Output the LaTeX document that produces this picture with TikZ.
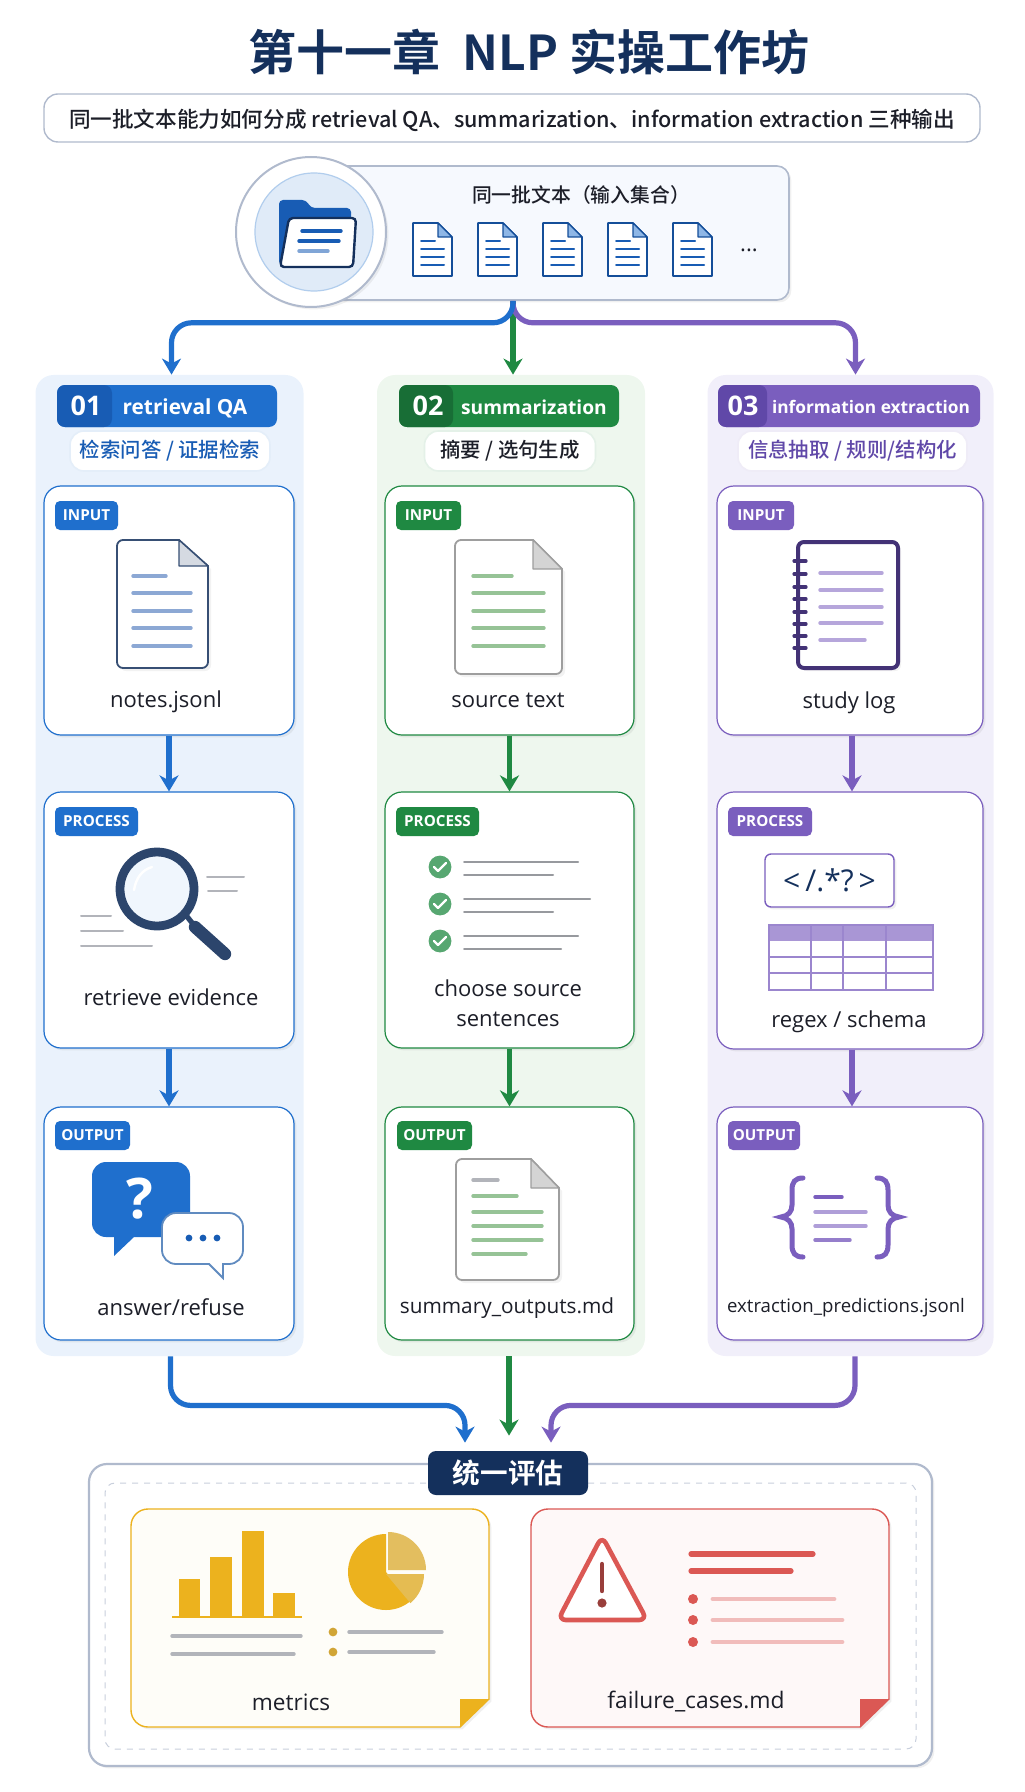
\documentclass[tikz,border=0pt]{standalone}
\usepackage{fontspec}
\setmainfont{Open Sans}
\newfontfamily\cjk[UprightFont=* Medium,BoldFont=* Bold]{Noto Sans CJK SC}
\usepackage{xcolor}
\usepackage{tikz}
\usetikzlibrary{arrows.meta,shadows}
\definecolor{navy}{RGB}{20,48,92}
\definecolor{inkblack}{RGB}{28,30,40}
\definecolor{qablue}{RGB}{31,111,205}
\definecolor{qadark}{RGB}{24,92,180}
\definecolor{qapale}{RGB}{234,242,252}
\definecolor{qaline}{RGB}{140,168,212}
\definecolor{sumgreen}{RGB}{31,137,66}
\definecolor{sumdark}{RGB}{24,110,54}
\definecolor{sumpale}{RGB}{238,247,238}
\definecolor{sumline}{RGB}{150,195,150}
\definecolor{iepurple}{RGB}{122,94,190}
\definecolor{iedark}{RGB}{96,72,168}
\definecolor{iepale}{RGB}{241,239,250}
\definecolor{edgegray}{RGB}{176,186,205}
\definecolor{linegray}{RGB}{178,180,186}
\definecolor{gold}{RGB}{236,178,30}
\definecolor{goldsoft}{RGB}{227,190,95}
\definecolor{failred}{RGB}{219,88,84}
\newcommand{\fsize}[1]{\fontsize{#1}{15}\selectfont}
\newcommand{\sheeticon}[8]{%
  \draw[#8,line width=0.9pt,fill=white,rounded corners=3pt,drop shadow={shadow xshift=1.5pt,shadow yshift=-1.5pt,opacity=0.1}]
    (#1,#2) [sharp corners] -- (#5,#2) -- (#3,#6) [rounded corners=3pt] -- (#3,#4) -- (#1,#4) -- cycle;
  \draw[#8,line width=0.7pt,fill=#7,line join=round] (#5,#2) -- (#5,#6) -- (#3,#6) -- cycle;}
\begin{document}
\begin{tikzpicture}[x=0.5pt,y=-0.5pt,>={Stealth[length=8pt,width=9.5pt,inset=2.5pt]},
  softshadow/.style={drop shadow={shadow xshift=1.2pt,shadow yshift=-1.2pt,opacity=0.12}},
  column/.style={fill=#1,rounded corners=9pt,inner sep=0pt,minimum width=134pt,minimum height=490.5pt},
  card/.style={draw=#1,fill=white,rounded corners=8.5pt,line width=0.6pt,inner sep=0pt,softshadow},
  headpill/.style={fill=#1,rounded corners=4pt,inner sep=0pt,minimum height=21pt},
  subpill/.style={draw=#1!12,fill=white,rounded corners=7pt,line width=0.8pt,inner sep=0pt,minimum height=20pt,font=\cjk\fsize{10.2}},
  badge/.style={fill=#1,rounded corners=2.5pt,inner sep=0pt,minimum height=14.5pt,text=white,font=\bfseries\fsize{7.6}},
  headnum/.style={text=white,font=\bfseries\fsize{13.5}},
  headtxt/.style={text=white,font=\bfseries\fsize{10}},
  lbl/.style={text=inkblack,align=center,font=\fsize{11}},
  flow/.style={->,draw=#1,line width=2.6pt},
  bend/.style={->,draw=#1,line width=2.6pt,rounded corners=10pt},
  txtline/.style={draw=#1,line width=1.7pt,line cap=round},
  thinline/.style={draw=#1,line width=1pt,line cap=round},
  brace/.style={iepurple,line width=2.5pt,line cap=round}]
\useasboundingbox (0,0) rectangle (1024,1792);
\node[text=navy,font=\cjk\bfseries\fsize{24}] (title) at (529,52) {第十一章\ \ NLP 实操工作坊};
\node[draw=edgegray,fill=white,rounded corners=7pt,line width=0.7pt,minimum width=468pt,minimum height=24pt,inner sep=0pt] (intro) at (512,118) {};
\node[text=inkblack,font=\cjk\fsize{10.8}] (introtxt) at (512,120) {同一批文本能力如何分成 retrieval QA、summarization、information extraction 三种输出};

\node[draw=edgegray,fill=qapale!45,rounded corners=6pt,line width=0.8pt,minimum width=229pt,minimum height=67pt,inner sep=0pt,softshadow] (src) at (560,233) {};
\node[text=inkblack,font=\cjk\fsize{9.9}] (srctxt) at (581,195) {同一批文本（输入集合）};
\node[draw=edgegray,fill=white,circle,line width=1pt,minimum size=75pt,inner sep=0pt,softshadow] (ring) at (311,232) {};
\node[draw=qablue!35,fill=qablue!14,circle,line width=0.6pt,minimum size=59pt,inner sep=0pt] (disc) at (314,232) {};
\fill[qadark,rounded corners=2pt] (279,265) -- (279,200) -- (306,200) -- (311,208) -- (351,208) -- (351,265) -- cycle;
\draw[navy,line width=1.2pt,fill=white,rounded corners=2pt] (289,218) -- (356,218) -- (353,267) -- (280,267) -- cycle;
\draw[txtline=qadark] (302,231) -- (341,231);
\draw[txtline=qadark] (299,241) -- (339,241);
\draw[txtline=qadark!55] (299,251) -- (328,251);
\foreach \x in {413,478,543,608,673}{
  \draw[qadark!85!black,line width=0.8pt,fill=white,line join=round] (\x,223) -- ++(25,0) -- ++(14,14) -- ++(0,39) -- ++(-39,0) -- cycle;
  \draw[qadark!85!black,line width=0.6pt,fill=qablue!50,line join=round] (\x+25,223) -- ++(0,14) -- ++(14,0) -- cycle;
  \draw[thinline=qadark] (\x+8,241) -- ++(14,0);
  \foreach \y in {249,257,265} \draw[thinline=qadark] (\x+8,\y) -- ++(23,0);
}
\node[text=inkblack,font=\fsize{11}] (more) at (749,250) {...};

\node[column=qapale] (col1) at (169.5,865.5) {};
\node[column=sumpale] (col2) at (511,865.5) {};
\node[column=iepale,minimum width=143pt] (col3) at (850.5,865.5) {};

\draw[flow=sumgreen] ([xshift=-23.5pt]src.south) -- ([xshift=1pt]col2.north);
\draw[bend=iepurple] ([xshift=-23.5pt]src.south) -- ++(0,22) -| ([xshift=2.5pt]col3.north);
\draw[bend=qablue] ([xshift=-23.5pt]src.south) -- ++(0,22) -| ([xshift=1pt]col1.north);

\node[headpill=qablue,minimum width=110pt] (head1) at (167,406) {};
\fill[qadark,rounded corners=4pt] (57,385) rectangle (112,427);
\node[headnum] (num1) at (86,406) {01};
\node[headtxt,font=\bfseries\fsize{10.4}] (name1) at (185,408) {retrieval QA};
\node[subpill=qablue,minimum width=100pt,text=qadark] (sub1) at (170,451) {检索问答 / 证据检索};

\node[headpill=sumgreen,minimum width=110pt] (head2) at (509,406) {};
\fill[sumdark,rounded corners=4pt] (399,385) rectangle (453,427);
\node[headnum] (num2) at (428,406) {02};
\node[headtxt,font=\bfseries\fsize{9.6}] (name2) at (534,407) {summarization};
\node[subpill=sumgreen,minimum width=85.5pt,text=inkblack] (sub2) at (510,451) {摘要 / 选句生成};

\node[headpill=iepurple,minimum width=131pt] (head3) at (849,406) {};
\fill[iedark,rounded corners=4pt] (718,385) rectangle (767,427);
\node[headnum] (num3) at (743,406) {03};
\node[headtxt,font=\bfseries\fsize{8.65}] (name3) at (871,407) {information extraction};
\node[subpill=iepurple,minimum width=114.5pt,text=iedark] (sub3) at (852.5,451) {信息抽取 / 规则/结构化};

\node[card=qablue,minimum width=125pt,minimum height=124.5pt] (in1) at (169,610.5) {};
\node[card=qablue,minimum width=125pt,minimum height=128pt] (pr1) at (169,920) {};
\node[card=qablue,minimum width=125pt,minimum height=116.5pt] (ou1) at (169,1223.5) {};
\node[card=sumgreen,minimum width=124.5pt,minimum height=124.5pt] (in2) at (509.5,610.5) {};
\node[card=sumgreen,minimum width=124.5pt,minimum height=128pt] (pr2) at (509.5,920) {};
\node[card=sumgreen,minimum width=124.5pt,minimum height=116.5pt] (ou2) at (509.5,1223.5) {};
\node[card=iepurple,minimum width=133pt,minimum height=124.5pt] (in3) at (850,610.5) {};
\node[card=iepurple,minimum width=133pt,minimum height=128.5pt] (pr3) at (850,920.5) {};
\node[card=iepurple,minimum width=133pt,minimum height=116.5pt] (ou3) at (850,1223.5) {};

\draw[flow=qablue] (in1) -- (pr1);
\draw[flow=qablue] (pr1) -- (ou1);
\draw[flow=sumgreen] (in2) -- (pr2);
\draw[flow=sumgreen] (pr2) -- (ou2);
\draw[flow=iepurple] ([xshift=1pt]in3.south) -- ([xshift=1pt]pr3.north);
\draw[flow=iepurple] ([xshift=1pt]pr3.south) -- ([xshift=1pt]ou3.north);

\node[badge=qablue,minimum width=31.5pt] (tag1a) at (86.5,515.5) {INPUT};
\node[badge=qablue,minimum width=41.5pt] (tag1b) at (96.5,821.5) {PROCESS};
\node[badge=qablue,minimum width=37.5pt] (tag1c) at (92.5,1135.5) {OUTPUT};
\node[badge=sumgreen,minimum width=32.5pt] (tag2a) at (428.5,515.5) {INPUT};
\node[badge=sumgreen,minimum width=41.5pt] (tag2b) at (437.5,821.5) {PROCESS};
\node[badge=sumgreen,minimum width=37.5pt] (tag2c) at (434.5,1135.5) {OUTPUT};
\node[badge=iepurple,minimum width=33pt] (tag3a) at (761,515.5) {INPUT};
\node[badge=iepurple,minimum width=42pt] (tag3b) at (770,821.5) {PROCESS};
\node[badge=iepurple,minimum width=36pt] (tag3c) at (764,1135.5) {OUTPUT};

\sheeticon{117}{540}{208}{668}{179}{566}{navy!18}{draw=navy!85}
\draw[txtline=qaline] (133,576) -- (166,576);
\foreach \y in {593,611,628,646} \draw[txtline=qaline] (133,\y) -- (191,\y);
\node[lbl] (t1a) at (166,702) {notes.jsonl};

\draw[navy!90,line width=6.2pt,line cap=round] (195,927) -- (225,954);
\draw[navy!90,line width=2.6pt] (185,914) -- (197,929);
\draw[navy!90,line width=4.4pt,fill=qapale!70] (157,889) circle[radius=18.5pt];
\draw[white,line width=1.2pt,line cap=round] (134,890) .. controls (136,878) and (142,870) .. (152,867);
\draw[thinline=linegray] (207,877) -- (244,877);
\draw[thinline=linegray] (208,891) -- (237,891);
\draw[thinline=linegray] (81,916) -- (111,916);
\draw[thinline=linegray] (81,931) -- (123,931);
\draw[thinline=linegray] (81,946) -- (152,946);
\node[lbl] (t1b) at (171,997) {retrieve evidence};

\fill[qablue,rounded corners=7pt] (92,1162) -- (190,1162) -- (190,1237) [sharp corners] -- (134,1237) -- (114,1256) -- (114,1237) [rounded corners=7pt] -- (92,1237) -- cycle;
\node[text=white,font=\bfseries\fsize{28}] (qmark) at (140,1199) {?};
\draw[draw=navy!35!qablue!70,line width=0.9pt,fill=white,rounded corners=7pt] (162,1213) -- (243,1213) -- (243,1264) [sharp corners] -- (223,1264) -- (223,1278) -- (209,1264) [rounded corners=7pt] -- (162,1264) -- cycle;
\foreach \x in {189,203,217} \fill[qadark] (\x,1238) circle[radius=1.7pt];
\node[lbl] (t1c) at (171,1307) {answer/refuse};

\sheeticon{455}{540}{562}{674}{533}{569}{black!17}{draw=black!38}
\draw[txtline=sumline] (473,576) -- (512,576);
\foreach \y in {593,611,628,646} \draw[txtline=sumline] (473,\y) -- (544,\y);
\node[lbl] (t2a) at (508,700) {source text};

\foreach \y in {867,904,941}{
  \fill[sumgreen!75!white] (440,\y) circle[radius=5.7pt];
  \draw[white,line width=1.2pt,line cap=round,line join=round] (434,\y) -- (438,\y+4) -- (446,\y-4);
}
\draw[thinline=linegray!85!black] (464,862) -- (578,862);
\draw[thinline=linegray!85!black] (464,875) -- (553,875);
\draw[thinline=linegray!85!black] (464,899) -- (590,899);
\draw[thinline=linegray!85!black] (464,912) -- (553,912);
\draw[thinline=linegray!85!black] (464,936) -- (578,936);
\draw[thinline=linegray!85!black] (464,949) -- (561,949);
\node[lbl] (t2b) at (508,1003) {choose source\\sentences};

\sheeticon{456}{1159}{559}{1280}{531}{1188}{black!17}{draw=black!38}
\draw[txtline=linegray] (473,1180) -- (498,1180);
\draw[txtline=sumline] (473,1196) -- (517,1196);
\foreach \y in {1212,1226,1240} \draw[txtline=sumline] (473,\y) -- (542,\y);
\draw[txtline=sumline] (473,1254) -- (526,1254);
\node[lbl,font=\fsize{10.4}] (t2c) at (507,1308) {summary\_outputs.md};

\draw[draw=iedark!70!black,line width=2pt,fill=white,rounded corners=3pt,drop shadow={shadow xshift=1.5pt,shadow yshift=-1.5pt,opacity=0.1}] (798,542) rectangle (898,668);
\foreach \y in {561,574,587,599,612,624,636,648} \draw[draw=iedark!70!black,line width=1.6pt,line cap=round] (794,\y) -- (806,\y);
\foreach \y in {573,590,607,623} \draw[txtline=iepurple!55] (820,\y) -- (882,\y);
\draw[txtline=iepurple!55] (820,640) -- (865,640);
\node[lbl] (t3a) at (849,703) {study log};

\node[draw=iepurple,fill=white,rounded corners=3pt,line width=0.7pt,minimum width=64.5pt,minimum height=26.5pt,inner sep=0pt,text=navy,font=\fsize{15},softshadow] (regex) at (829.5,880.5) {<\,/.*?\,>};
\fill[iepurple!65] (769,925) rectangle (933,941);
\draw[iepurple!75,line width=0.7pt] (769,925) rectangle (933,990);
\foreach \x in {811,843,886} \draw[iepurple!75,line width=0.7pt] (\x,925) -- (\x,990);
\foreach \y in {957,973} \draw[iepurple!75,line width=0.7pt] (769,\y) -- (933,\y);
\node[lbl] (t3b) at (849,1022) {regex / schema};

\draw[brace] (803,1178) .. controls (795,1178) and (792,1182) .. (792,1190) -- (792,1205) .. controls (792,1212) and (788,1216) .. (781,1217) .. controls (788,1218) and (792,1222) .. (792,1229) -- (792,1245) .. controls (792,1253) and (795,1257) .. (803,1257);
\draw[brace] (877,1178) .. controls (885,1178) and (888,1182) .. (888,1190) -- (888,1205) .. controls (888,1212) and (892,1216) .. (899,1217) .. controls (892,1218) and (888,1222) .. (888,1229) -- (888,1245) .. controls (888,1253) and (885,1257) .. (877,1257);
\draw[txtline=iepurple] (815,1197) -- (842,1197);
\draw[txtline=iepurple!60] (815,1212) -- (866,1212);
\draw[txtline=iepurple!60] (815,1226) -- (866,1226);
\draw[txtline=iepurple!80] (815,1240) -- (850,1240);
\node[lbl,font=\fsize{9.3}] (t3c) at (846,1308) {extraction\_predictions.jsonl};

\node[draw=edgegray,fill=white,rounded corners=9pt,line width=1.1pt,minimum width=421.5pt,minimum height=151pt,inner sep=0pt,softshadow] (evalbox) at (510.5,1615) {};
\node[draw=edgegray!70,dashed,rounded corners=5pt,line width=0.5pt,minimum width=405.5pt,minimum height=133pt,inner sep=0pt] (evalinner) at (510.5,1616) {};
\node[fill=navy,rounded corners=4pt,inner sep=0pt,minimum width=80pt,minimum height=22pt,text=white,font=\cjk\bfseries\fsize{13.8}] (evalb) at (508,1473) {统一评估};

\draw[bend=qablue] ([xshift=0.5pt]col1.south) -- ++(0,49) -| ([xshift=-21.5pt,yshift=4pt]evalb.north);
\draw[flow=sumgreen] ([xshift=-1pt]col2.south) -- ([xshift=0.5pt,yshift=7.5pt]evalb.north);
\draw[bend=iepurple] ([xshift=2.25pt]col3.south) -- ++(0,49) -| ([xshift=21.5pt,yshift=4pt]evalb.north);

\draw[draw=gold,fill=gold!3,line width=0.7pt,rounded corners=8.5pt,softshadow] (131,1509) -- (489,1509) [sharp corners] -- (489,1699) -- (460,1727) [rounded corners=8.5pt] -- (131,1727) -- cycle;
\fill[gold,line join=round] (460,1727) -- (460,1699) -- (489,1699) -- cycle;
\fill[gold] (179,1579) rectangle (200,1617);
\fill[gold] (210,1557) rectangle (232,1617);
\fill[gold] (242,1531) rectangle (264,1617);
\fill[gold] (273,1593) rectangle (295,1617);
\draw[gold,line width=0.9pt] (172,1617) -- (302,1617);
\fill[gold] (386,1572) -- (386,1534) arc[start angle=90,end angle=310,radius=19pt] -- cycle;
\fill[goldsoft!80!gold] (386,1574) -- ++(50:38) arc[start angle=-50,end angle=0,radius=19pt] -- cycle;
\fill[goldsoft] (388,1570) -- (388,1532) arc[start angle=90,end angle=0,radius=19pt] -- cycle;
\draw[txtline=linegray] (172,1636) -- (301,1636);
\draw[txtline=linegray] (172,1654) -- (294,1654);
\fill[gold!75!gray] (333,1632) circle[radius=2.2pt];
\fill[gold!75!gray] (333,1652) circle[radius=2.2pt];
\draw[txtline=linegray] (349,1632) -- (442,1632);
\draw[txtline=linegray] (349,1652) -- (434,1652);
\node[lbl,font=\fsize{11.3}] (t4) at (291,1702) {metrics};

\begin{scope}[xshift=-1.5pt]
\draw[draw=failred,fill=failred!4,line width=0.7pt,rounded corners=8.5pt,softshadow] (534,1509) -- (892,1509) [sharp corners] -- (892,1699) -- (863,1727) [rounded corners=8.5pt] -- (534,1727) -- cycle;
\fill[failred] (863,1727) -- (863,1699) -- (892,1699) -- cycle;
\draw[failred,line width=2.3pt,fill=white,rounded corners=4pt,line join=round] (605,1536) -- (650,1620) -- (561,1620) -- cycle;
\draw[failred!70!black,line width=2.2pt,line cap=round] (605,1564) -- (605,1591);
\fill[failred!70!black] (605,1603) circle[radius=2.3pt];
\draw[draw=failred,line width=2.6pt,line cap=round] (694,1554) -- (816,1554);
\draw[draw=failred,line width=2.6pt,line cap=round] (694,1571) -- (794,1571);
\foreach \y in {1599,1620,1642} \fill[failred] (696,\y) circle[radius=2.5pt];
\draw[draw=failred!40,line width=2.4pt,line cap=round] (716,1599) -- (837,1599);
\draw[draw=failred!40,line width=2.4pt,line cap=round] (716,1620) -- (845,1620);
\draw[draw=failred!40,line width=2.4pt,line cap=round] (716,1642) -- (845,1642);
\node[lbl,font=\fsize{11.4}] (t5) at (699,1702) {failure\_cases.md};
\end{scope}
\end{tikzpicture}
\end{document}
